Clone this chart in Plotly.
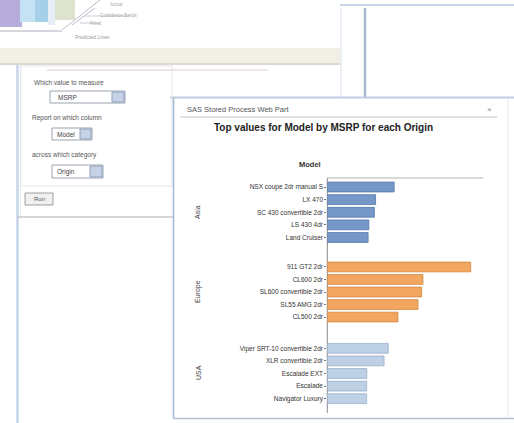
import plotly.graph_objects as go

W, H = 514, 423

# ---------------- data ----------------
origins = ["Asia", "Europe", "USA"]
asia_models = ["NSX coupe 2dr manual S", "LX 470", "SC 430 convertible 2dr", "LS 430 4dr", "Land Cruiser"]
asia_msrp = [89765, 64800, 63200, 55750, 54765]
europe_models = ["911 GT2 2dr", "CL600 2dr", "SL600 convertible 2dr", "SL55 AMG 2dr", "CL500 2dr"]
europe_msrp = [192465, 128420, 126670, 121770, 94820]
usa_models = ["Viper SRT-10 convertible 2dr", "XLR convertible 2dr", "Escalade EXT", "Escalade", "Navigator Luxury"]
usa_msrp = [81795, 76200, 52975, 52795, 52775]

colors = ["#7598c9", "#f2a65f", "#bdd0e4"]
edge = ["#5477a8", "#d08840", "#98aecb"]

FONT = "Liberation Sans, Arial, sans-serif"


def px(x):
    return x / W


def py(y):
    return 1 - y / H


shapes = []
annos = []


def rect(x0, y0, x1, y1, fill="rgba(0,0,0,0)", line=None, lw=1):
    shapes.append(dict(type="rect", xref="paper", yref="paper",
                       x0=px(x0), x1=px(x1), y0=py(y1), y1=py(y0),
                       fillcolor=fill, layer="below",
                       line=dict(color=line or "rgba(0,0,0,0)", width=lw if line else 0)))


def seg(x0, y0, x1, y1, color, lw=1):
    shapes.append(dict(type="line", xref="paper", yref="paper",
                       x0=px(x0), x1=px(x1), y0=py(y0), y1=py(y1), layer="below",
                       line=dict(color=color, width=lw)))


def text(x, y, s, size=7, color="#444", bold=False, xanchor="left", angle=0):
    annos.append(dict(xref="paper", yref="paper", x=px(x), y=py(y),
                      text=f"<b>{s}</b>" if bold else s, showarrow=False,
                      xanchor=xanchor, yanchor="middle", textangle=angle,
                      font=dict(family=FONT, size=size, color=color)))


# ---------------- background page ----------------
seg(340, 5, 514, 5, "#c9d7e8", 2)
seg(341, 8, 341, 97, "#d6e0ec", 1)
seg(365, 8, 365, 97, "#a9b9cd", 2.5)
seg(170, 97.5, 514, 97.5, "#bfcde0", 2)
seg(17.5, 64, 17.5, 423, "#c5d5ea", 2.5)
seg(20.5, 64, 20.5, 217, "#e4eaf2", 1)

# form
rect(21, 66, 172, 186, line="#e3e6ea", lw=1)
seg(47, 70, 268, 70, "#e8dede", 1.5)
text(32, 82, "Which value to measure", 6.5, "#555")
rect(50, 91, 125, 103, fill="#ffffff", line="#9aa4b0")
rect(112, 92, 124, 102, fill="#c6d2e6", line="#8ea0bc")
text(56, 97, "MSRP", 6.5, "#444")
text(30, 118, "Report on which column", 6.5, "#555")
rect(52, 128, 92, 140, fill="#ffffff", line="#9aa4b0")
rect(80, 129, 91, 139, fill="#c6d2e6", line="#8ea0bc")
text(55, 134, "Model", 6.5, "#444")
text(30, 155, "across which category", 6.5, "#555")
rect(52, 165, 103, 178, fill="#ffffff", line="#9aa4b0")
rect(90, 166, 102, 177, fill="#c6d2e6", line="#8ea0bc")
text(55, 171.5, "Origin", 6.5, "#444")
rect(25, 193, 53, 205, fill="#f0f0f0", line="#a0a0a0")
text(39, 199, "Run", 6, "#555", xanchor="center")
seg(17, 217, 173, 217, "#c8c8c8", 1.5)

# popup window (top left)
rect(0, 0, 340, 48, fill="#ffffff")
rect(0, 48, 340, 63, fill="#f2efe7")
seg(0, 64, 340, 64, "#dcd8d0", 2)
rect(0, 0, 22, 27, fill="#b6addb")
rect(20, 0, 35, 22, fill="#c4e2f3")
rect(35, 0, 48, 22, fill="#a6cfe8")
rect(48, 0, 55, 25, fill="#e8eef6")
rect(55, 0, 75, 20, fill="#dde3cf")
seg(0, 31, 62, 31, "#c8c8d4", 1.5)
seg(62, 30, 100, 0, "#b8bcc8", 1)
seg(72, 25, 95, 8, "#b8bcc8", 1)
seg(85, 16, 130, 16, "#c8ccd4", 1)
seg(80, 23, 100, 23, "#c8ccd4", 1)
text(108, 4, "Actual", 4.5, "#aaa")
text(98, 15, "Confidence Bands", 4.5, "#aaa")
text(88, 24, "Fitted", 4.5, "#aaa")
text(73, 37, "Predicted Lines", 5, "#999")

# web part panel
rect(173, 99, 508, 418, fill="#ffffff")
seg(173.5, 98, 173.5, 418, "#9fb6d6", 1.5)
seg(173, 418.5, 514, 418.5, "#b4bece", 1.5)
seg(508, 99, 508, 418, "#e6eaf0", 1)
text(185, 110, "SAS Stored Process Web Part", 7.5, "#555")
text(489, 110, "×", 8, "#888", xanchor="center")
seg(180, 117, 497, 117, "#c4c4c4", 1)

# chart frame
text(323, 127, "Top values for Model by MSRP for each Origin", 10, "#222", bold=True, xanchor="center")
text(310, 164, "Model", 7.5, "#333", bold=True, xanchor="center")
seg(327, 178, 483, 178, "#cccccc", 1.5)
seg(327.3, 178, 327.3, 413, "#8a8a8a", 1)

# ---------------- chart ----------------
groups = [(asia_models, asia_msrp), (europe_models, europe_msrp), (usa_models, usa_msrp)]
domains_px = [(180.7, 243.8), (260.7, 323.3), (342.0, 405.0)]
label_y = [212, 292, 373]

fig = go.Figure()
layout = {}
for i, (models, msrp) in enumerate(groups):
    yname = "y" if i == 0 else f"y{i+1}"
    fig.add_trace(go.Bar(
        x=msrp, y=models, orientation="h", xaxis="x", yaxis=yname,
        marker=dict(color=colors[i], line=dict(color=edge[i], width=0.8)),
        width=0.78, hoverinfo="skip", showlegend=False))
    top, bot = domains_px[i]
    key = "yaxis" if i == 0 else f"yaxis{i+1}"
    layout[key] = dict(
        domain=[py(bot), py(top)], anchor="x", type="category",
        categoryorder="array", categoryarray=models, autorange="reversed",
        showgrid=False, zeroline=False, showline=False,
        ticks="outside", ticklen=2, tickcolor="#777",
        tickfont=dict(family=FONT, size=6.5, color="#333"))
    text(198, label_y[i], origins[i], 7, "#444", xanchor="center", angle=-90)

x_left, x_right = 327.3, 483.0
layout["xaxis"] = dict(domain=[px(x_left), px(x_right)], range=[0, 209000],
                       anchor="y3", showticklabels=False, showgrid=False,
                       zeroline=False, showline=False, ticks="")

fig.update_layout(
    width=W, height=H, margin=dict(l=0, r=0, t=0, b=0),
    paper_bgcolor="#ffffff", plot_bgcolor="rgba(0,0,0,0)",
    shapes=shapes, annotations=annos, showlegend=False,
    font=dict(family=FONT), **layout)

fig.write_html("out.html", config={"displayModeBar": False})
